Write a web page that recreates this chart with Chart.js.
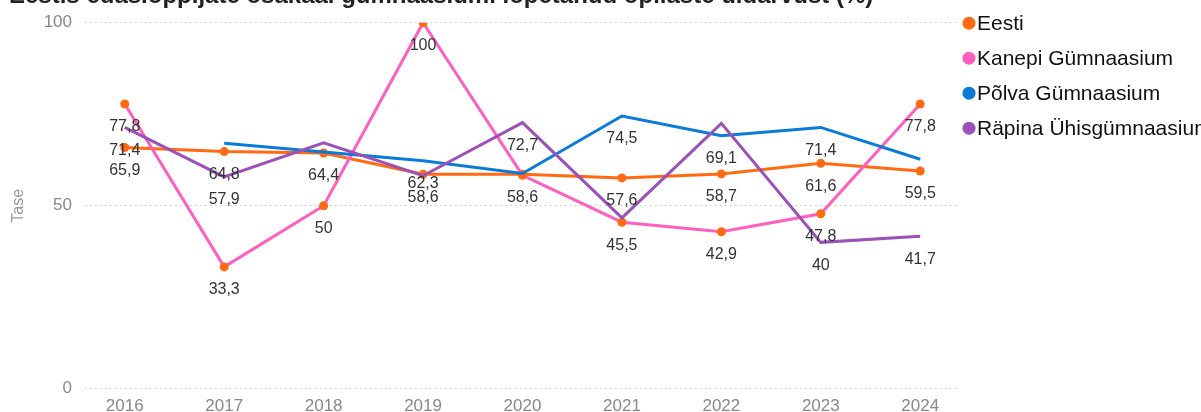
<!DOCTYPE html>
<html>
<head>
<meta charset="utf-8">
<script src="https://cdn.jsdelivr.net/npm/chart.js@4"></script>
<style>
html,body{margin:0;padding:0;background:#fff;overflow:hidden;width:1201px;height:412px}
#wrap{position:absolute;left:0;top:-18px;width:1201px;height:430px}
</style>
</head>
<body>
<div id="wrap"><canvas id="c"></canvas></div>
<script>
// ---- data ----
const years = [2016, 2017, 2018, 2019, 2020, 2021, 2022, 2023, 2024];
const eesti  = [65.9, 64.8, 64.4, 58.6, 58.6, 57.6, 58.7, 61.6, 59.5];
const kanepi = [77.8, 33.3, 50, 100, 58.3, 45.5, 42.9, 47.8, 77.8];
const polva  = [null, 67.1, 64.7, 62.3, 58.8, 74.5, 69.1, 71.4, 62.7];
const rapina = [71.4, 57.9, 67.2, 58.2, 72.7, 46.7, 72.5, 40, 41.7];

const seriesNames  = ["Eesti", "Kanepi Gümnaasium", "Põlva Gümnaasium", "Räpina Ühisgümnaasium"];
const seriesColors = ["#FF6A13", "#FF60BF", "#0A7BD9", "#9B51B8"];
const seriesValues = [eesti, kanepi, polva, rapina];

// which value labels are visible (overlapping ones hidden in the original)
const eestiLabels  = [1,1,1,1,1,1,1,1,1];
const kanepiLabels = [1,1,1,1,0,1,1,1,1];
const polvaLabels  = [0,0,0,1,0,1,1,1,0];
const rapinaLabels = [1,1,0,0,1,0,0,1,1];
const labelShown = [eestiLabels, kanepiLabels, polvaLabels, rapinaLabels];

const titleText = "Eestis edasiõppijate osakaal gümnaasiumi lõpetanud õpilaste üldarvust (%)";
const yAxisTitle = "Tase";
const yTicks = [0, 50, 100];

const FONT = "'Liberation Sans', Arial, Helvetica, sans-serif";
Chart.defaults.font.family = FONT;

const valueLabels = {
  id: 'valueLabels',
  afterDatasetsDraw(chart) {
    const ctx = chart.ctx;
    ctx.save();
    ctx.font = '16px ' + FONT;
    ctx.fillStyle = '#333';
    ctx.textAlign = 'center';
    ctx.textBaseline = 'middle';
    chart.data.datasets.forEach((ds, i) => {
      const meta = chart.getDatasetMeta(i);
      meta.data.forEach((pt, j) => {
        const v = seriesValues[i][j];
        if (v == null || !labelShown[i][j]) return;
        ctx.fillText(String(v).replace('.', ','), pt.x, pt.y + 23);
      });
    });
    ctx.restore();
  }
};

const customLegend = {
  id: 'customLegend',
  afterDraw(chart) {
    const ctx = chart.ctx, a = chart.chartArea;
    ctx.save();
    ctx.font = '21px ' + FONT;
    ctx.textBaseline = 'middle';
    ctx.textAlign = 'left';
    seriesNames.forEach((n, i) => {
      const y = a.top + 0.5 + i * 35;
      ctx.fillStyle = seriesColors[i];
      ctx.beginPath();
      ctx.arc(a.right + 11, y, 6.5, 0, Math.PI * 2);
      ctx.fill();
      ctx.fillStyle = '#111';
      ctx.fillText(n, a.right + 19, y + 1);
    });
    ctx.restore();
  }
};

const toPts = arr => years.map((yr, i) => ({x: yr, y: arr[i]}));

new Chart(document.getElementById('c'), {
  type: 'line',
  data: {
    datasets: [
      {label: seriesNames[0], data: toPts(eesti), borderColor: seriesColors[0], backgroundColor: seriesColors[0],
       pointBackgroundColor: seriesColors[0], pointRadius: 4.5, pointBorderWidth: 0, borderWidth: 3, order: 4},
      {label: seriesNames[1], data: toPts(kanepi), borderColor: seriesColors[1], backgroundColor: seriesColors[1],
       pointBackgroundColor: seriesColors[0], pointRadius: 4.5, pointBorderWidth: 0, borderWidth: 3, order: 3},
      {label: seriesNames[2], data: toPts(polva), borderColor: seriesColors[2], backgroundColor: seriesColors[2],
       pointRadius: 0, borderWidth: 3, order: 2},
      {label: seriesNames[3], data: toPts(rapina), borderColor: seriesColors[3], backgroundColor: seriesColors[3],
       pointRadius: 0, borderWidth: 3, order: 1}
    ]
  },
  options: {
    responsive: true,
    maintainAspectRatio: false,
    animation: false,
    events: [],
    layout: {padding: {left: 9, right: 243, top: 0, bottom: 0}},
    plugins: {
      legend: {display: false},
      tooltip: {enabled: false},
      title: {
        display: true, text: titleText, align: 'start', color: '#222',
        font: {size: 24, weight: 'bold', family: FONT, lineHeight: 1.2},
        padding: {top: 0.2, bottom: 11.7}
      }
    },
    scales: {
      x: {
        type: 'linear', min: 2015.6, max: 2024.38,
        grid: {display: false, drawTicks: false},
        border: {display: false},
        ticks: {stepSize: 1, includeBounds: false, color: '#888', padding: 7,
                font: {size: 17}, callback: v => String(v)},
        afterFit(s) { s.height = 23; }
      },
      y: {
        min: 0, max: 100,
        afterBuildTicks(s) { s.ticks = yTicks.map(v => ({value: v})); },
        grid: {color: '#c8c8c8', lineWidth: 1, drawTicks: false},
        border: {display: false, dash: [1.5, 3.5]},
        ticks: {color: '#888', padding: 13, font: {size: 17}},
        title: {display: true, text: yAxisTitle, color: '#999', font: {size: 16}, padding: {top: 0, bottom: 0}},
        afterFit(s) { s.width = 76; }
      }
    }
  },
  plugins: [valueLabels, customLegend]
});
</script>
</body>
</html>
